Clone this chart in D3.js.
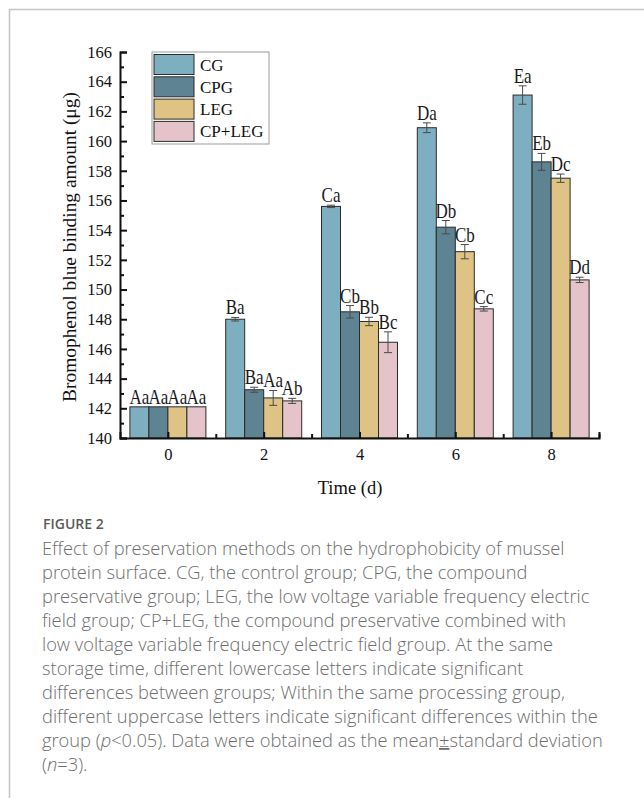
<!DOCTYPE html>
<html>
<head>
<meta charset="utf-8">
<script src="https://cdn.jsdelivr.net/npm/d3@7"></script>
<style>
  body { margin: 0; background: #fff; }
  svg { display: block; }
</style>
</head>
<body>
<svg id="chart" width="644" height="798"></svg>
<script>
// data
const times = [0, 2, 4, 6, 8]
const groups = ["CG", "CPG", "LEG", "CP+LEG"]
const colours = ["#7eafc0", "#5e8393", "#dfc385", "#e5c3ca"]

const cgMean = [142.1, 148.0, 155.6, 160.9, 163.1]
const cpgMean = [142.1, 143.25, 148.5, 154.2, 158.6]
const legMean = [142.1, 142.7, 147.85, 152.55, 157.5]
const cpLegMean = [142.1, 142.5, 146.45, 148.7, 150.65]

const cgSd = [0.0, 0.12, 0.08, 0.33, 0.62]
const cpgSd = [0.0, 0.17, 0.42, 0.45, 0.57]
const legSd = [0.0, 0.5, 0.28, 0.48, 0.28]
const cpLegSd = [0.0, 0.17, 0.7, 0.15, 0.18]

const cgLetters = ["Aa", "Ba", "Ca", "Da", "Ea"]
const cpgLetters = ["Aa", "Ba", "Cb", "Db", "Eb"]
const legLetters = ["Aa", "Aa", "Bb", "Cb", "Dc"]
const cpLegLetters = ["Aa", "Ab", "Bc", "Cc", "Dd"]

const yTicks = [140, 142, 144, 146, 148, 150, 152, 154, 156, 158, 160, 162, 164, 166]
const yMinor = [141, 143, 145, 147, 149, 151, 153, 155, 157, 159, 161, 163, 165]
const xMinor = [1, 3, 5, 7, 9]

const captionLines = [
  "Effect of preservation methods on the hydrophobicity of mussel",
  "protein surface. CG, the control group; CPG, the compound",
  "preservative group; LEG, the low voltage variable frequency electric",
  "field group; CP+LEG, the compound preservative combined with",
  "low voltage variable frequency electric field group. At the same",
  "storage time, different lowercase letters indicate significant",
  "differences between groups; Within the same processing group,",
  "different uppercase letters indicate significant differences within the",
  "group (|p|<0.05). Data were obtained as the mean_±_standard deviation",
  "(|n|=3)."
]

const means = [cgMean, cpgMean, legMean, cpLegMean]
const sds = [cgSd, cpgSd, legSd, cpLegSd]
const letters = [cgLetters, cpgLetters, legLetters, cpLegLetters]

const rows = []
groups.forEach((g, gi) => {
  times.forEach((t, ti) => {
    rows.push({group: g, gi: gi, time: t, mean: means[gi][ti], sd: sds[gi][ti], label: letters[gi][ti]})
  })
})

const svg = d3.select("#chart")
const serif = "'Liberation Serif', 'Times New Roman', serif"

// outer frame of the figure panel
svg.append("path")
  .attr("d", "M9.5,800 L9.5,9.5 L650,9.5")
  .attr("fill", "none")
  .attr("stroke", "#c4c4c4")
  .attr("stroke-width", 1.5)

const x = d3.scaleLinear().domain([-1, 9]).range([120, 599])
const y = d3.scaleLinear().domain([140, 166]).range([438, 52])
const inner = d3.scaleBand().domain(groups).range([-38, 38]).padding(0)

const plot = svg.append("g")

// bars
plot.selectAll("rect.bar")
  .data(rows)
  .join("rect")
  .attr("class", "bar")
  .attr("x", d => x(d.time) + inner(d.group))
  .attr("y", d => y(d.mean))
  .attr("width", inner.bandwidth())
  .attr("height", d => y(140) - y(d.mean))
  .attr("fill", d => colours[d.gi])
  .attr("stroke", "#2b2b2b")
  .attr("stroke-width", 1)

// error bars
const err = plot.selectAll("g.err")
  .data(rows.filter(d => d.sd > 0))
  .join("g")
  .attr("class", "err")
  .attr("stroke", "#4a4a4a")
  .attr("stroke-width", 1)
  .attr("transform", d => "translate(" + (x(d.time) + inner(d.group) + inner.bandwidth() / 2) + ",0)")
err.append("line")
  .attr("y1", d => y(d.mean - d.sd)).attr("y2", d => y(d.mean + d.sd))
err.append("line")
  .attr("x1", -4).attr("x2", 4)
  .attr("y1", d => y(d.mean + d.sd)).attr("y2", d => y(d.mean + d.sd))
err.append("line")
  .attr("x1", -4).attr("x2", 4)
  .attr("y1", d => y(d.mean - d.sd)).attr("y2", d => y(d.mean - d.sd))

// significance letters (the original glyphs are a bit taller than Times)
plot.selectAll("text.sig")
  .data(rows)
  .join("text")
  .attr("class", "sig")
  .attr("transform", d => "translate(" + (x(d.time) + inner(d.group) + inner.bandwidth() / 2) + "," + (y(d.mean + d.sd) - 3) + ") scale(1,1.18)")
  .attr("text-anchor", "middle")
  .attr("font-family", serif)
  .attr("font-size", 17)
  .attr("fill", "#1a1a1a")
  .text(d => d.label)

// axes
const yAxis = svg.append("g")
  .attr("transform", "translate(120,0)")
  .call(d3.axisLeft(y).tickValues(yTicks).tickSize(-7).tickPadding(8).tickFormat(d3.format("d")))
const yAxisMinor = svg.append("g")
  .attr("transform", "translate(120,0)")
  .call(d3.axisLeft(y).tickValues(yMinor).tickSize(-4).tickFormat(""))
const xAxis = svg.append("g")
  .attr("transform", "translate(0,438)")
  .call(d3.axisBottom(x).tickValues(times).tickSize(-6).tickPadding(10).tickFormat(d3.format("d")))
const xAxisMinor = svg.append("g")
  .attr("transform", "translate(0,438)")
  .call(d3.axisBottom(x).tickValues(xMinor).tickSize(-4).tickFormat(""))

;[yAxis, yAxisMinor, xAxis, xAxisMinor].forEach(a => {
  a.select(".domain").attr("stroke", "#111").attr("stroke-width", 2)
  a.selectAll(".tick line").attr("stroke", "#111").attr("stroke-width", 2)
  a.selectAll("text").attr("font-family", serif).attr("font-size", 16.5).attr("fill", "#111")
})
yAxisMinor.select(".domain").remove()
xAxisMinor.select(".domain").remove()
xAxis.selectAll("text").attr("dy", "0.71em")

svg.append("text")
  .attr("transform", "translate(76,247) rotate(-90)")
  .attr("text-anchor", "middle")
  .attr("font-family", serif)
  .attr("font-size", 19.4)
  .attr("fill", "#111")
  .text("Bromophenol blue binding amount (\u03bcg)")

svg.append("text")
  .attr("x", 350)
  .attr("y", 494)
  .attr("text-anchor", "middle")
  .attr("font-family", serif)
  .attr("font-size", 18.5)
  .attr("fill", "#111")
  .text("Time (d)")

// legend
const legend = svg.append("g").attr("transform", "translate(152,52)")
legend.append("rect")
  .attr("width", 117).attr("height", 92)
  .attr("fill", "#fff").attr("stroke", "#9a9a9a").attr("stroke-width", 1)
const item = legend.selectAll("g.item")
  .data(groups)
  .join("g")
  .attr("class", "item")
  .attr("transform", (d, i) => "translate(2," + (2.5 + i * 22.3) + ")")
item.append("rect")
  .attr("width", 40).attr("height", 20)
  .attr("fill", (d, i) => colours[i])
  .attr("stroke", "#2b2b2b").attr("stroke-width", 1)
item.append("text")
  .attr("x", 46).attr("y", 16)
  .attr("font-family", serif)
  .attr("font-size", 17)
  .attr("fill", "#111")
  .text(d => d)

// caption
const sans = "'Open Sans', 'Noto Sans', sans-serif"
svg.append("text")
  .attr("x", 43).attr("y", 529)
  .attr("font-family", sans)
  .attr("font-size", 14)
  .attr("font-weight", 600)
  .attr("fill", "#5a5a5a")
  .text("FIGURE 2")

const cap = svg.append("g")
  .attr("font-family", sans)
  .attr("font-size", 18.3)
  .attr("font-weight", 300)
  .attr("fill", "#6e6e6e")
captionLines.forEach((line, i) => {
  const t = cap.append("text").attr("x", 42).attr("y", 555 + i * 24)
  line.split(/(\|[^|]*\||_[^_]*_)/).filter(s => s.length).forEach(part => {
    if (part.startsWith("|")) {
      t.append("tspan").attr("font-style", "italic").text(part.slice(1, -1))
    } else if (part.startsWith("_")) {
      t.append("tspan").attr("text-decoration", "underline").text(part.slice(1, -1))
    } else {
      t.append("tspan").text(part)
    }
  })
})
</script>
</body>
</html>
